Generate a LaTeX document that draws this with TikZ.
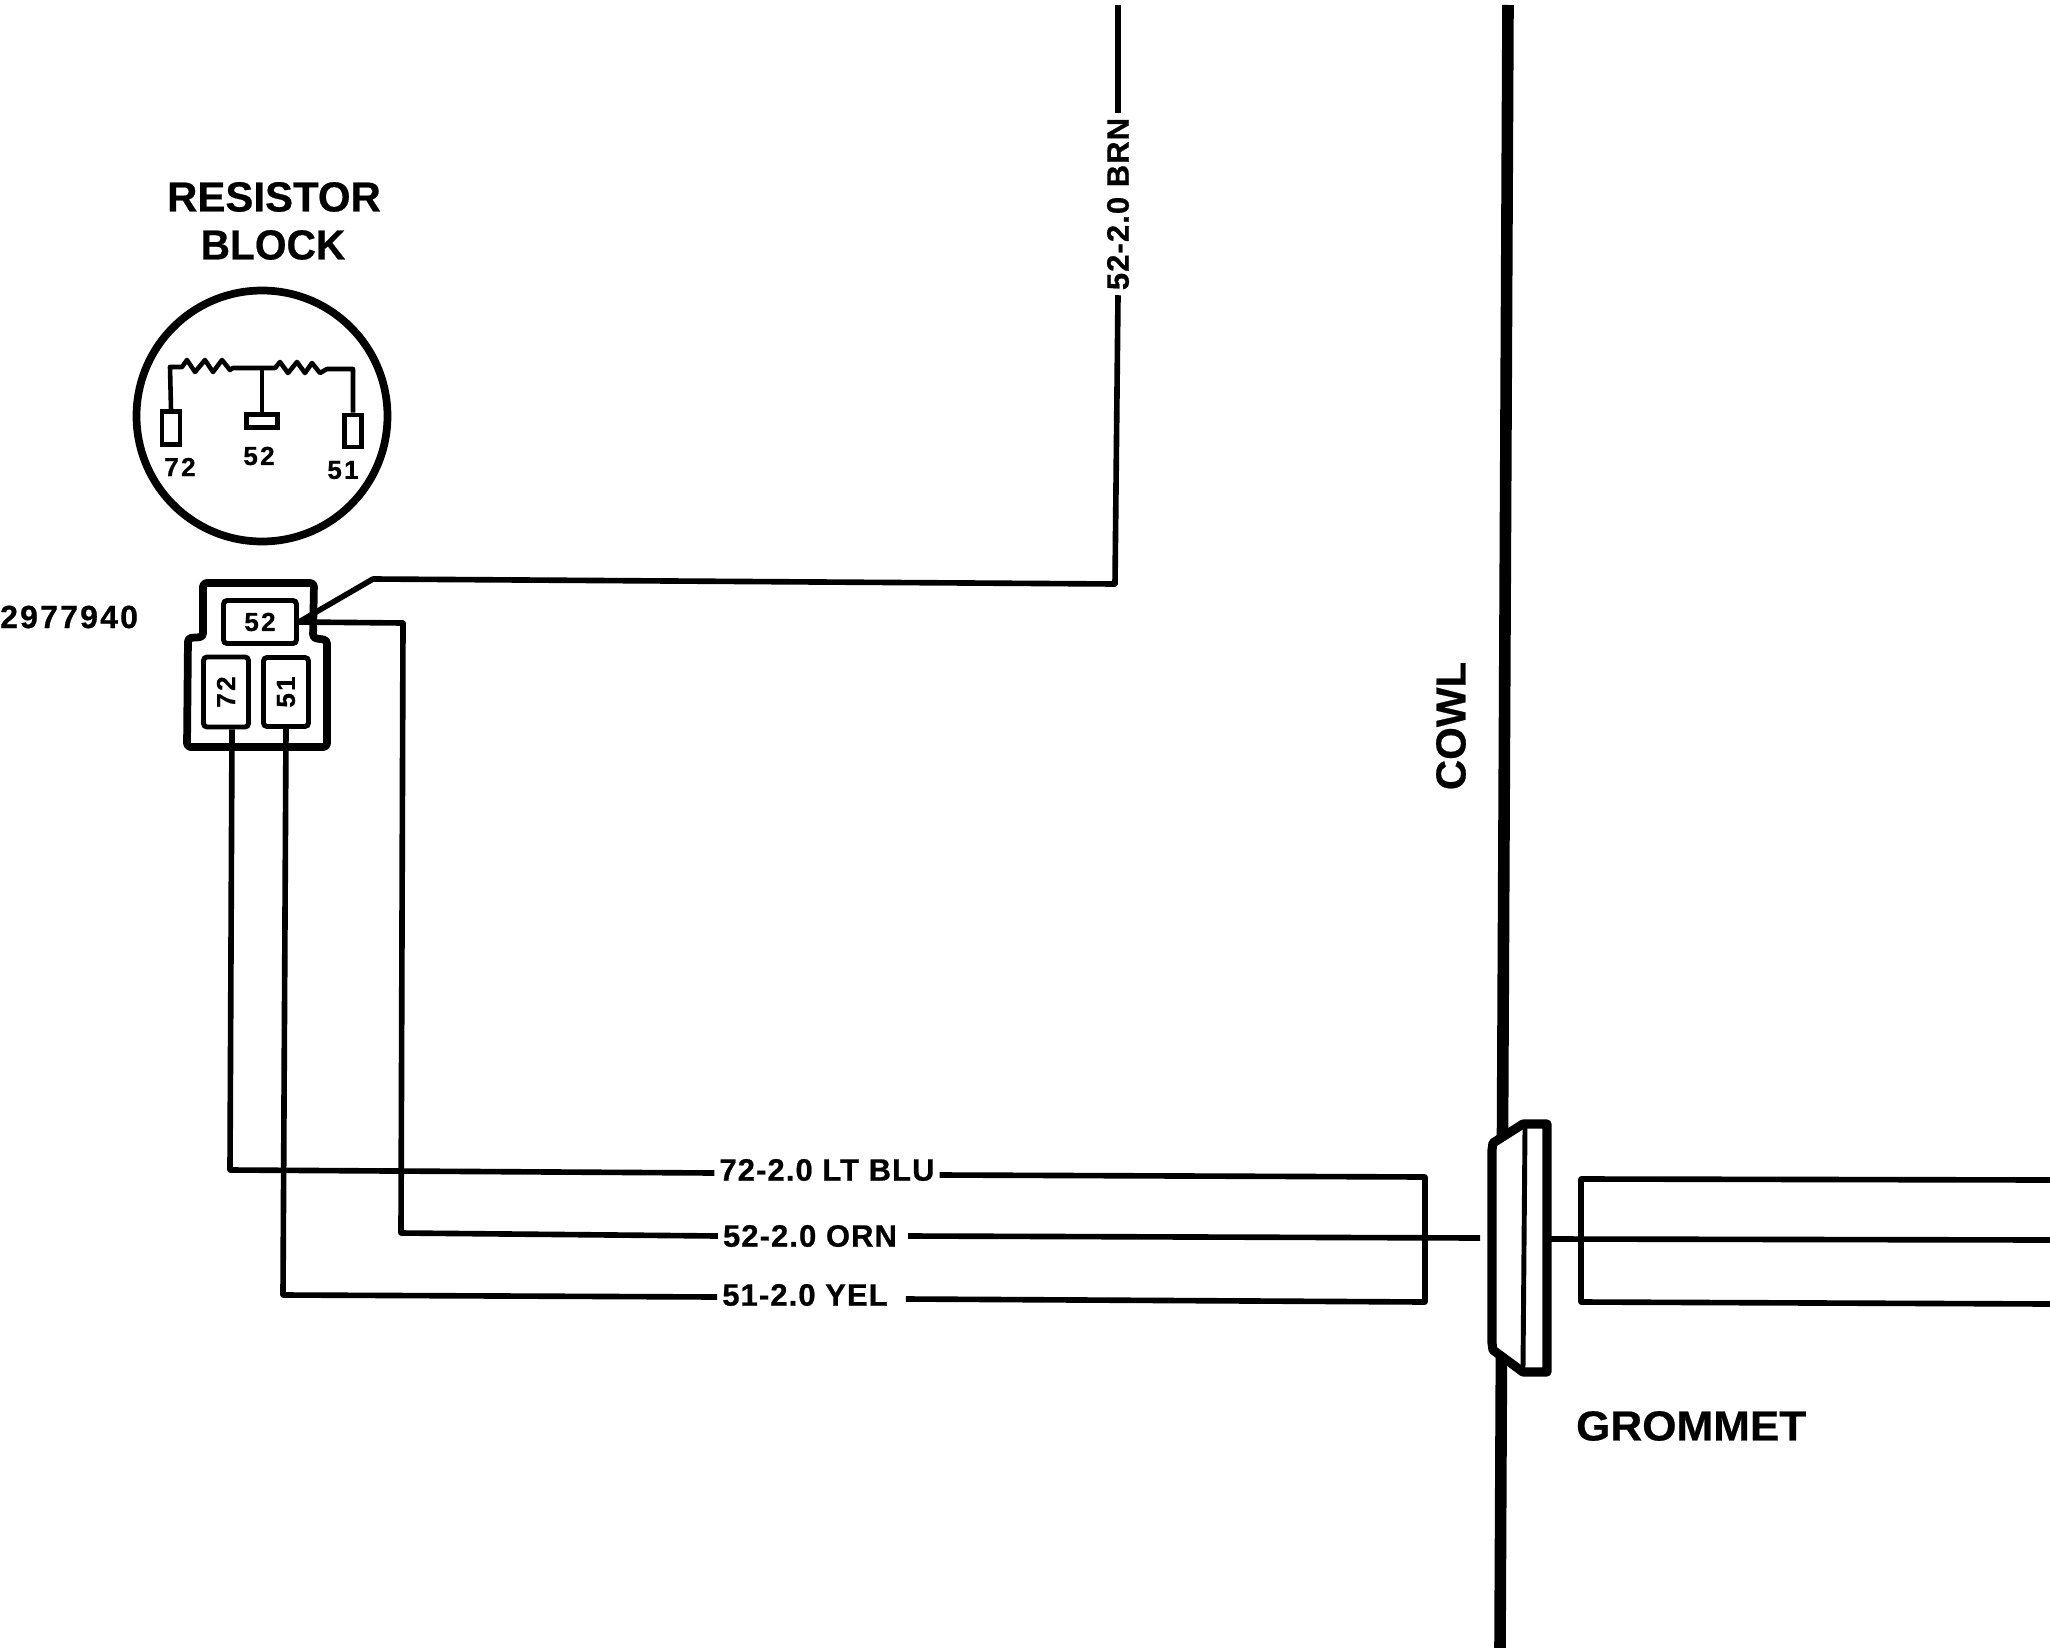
\documentclass[tikz,border=0pt]{standalone}
\usepackage{fontspec}
\setmainfont[BoldFeatures={FakeBold=0.5}]{Liberation Sans}
\newfontfamily\wirefont[LetterSpace=3.6,BoldFeatures={FakeBold=0.7}]{Liberation Sans}
\newfontfamily\partfont[LetterSpace=6.8,BoldFeatures={FakeBold=0.7}]{Liberation Sans}
\newfontfamily\pinfont[LetterSpace=9,BoldFeatures={FakeBold=0.7}]{Liberation Sans}
\usetikzlibrary{positioning}

\tikzset{
  wire/.style={line width=8pt, line join=round},
  thin wire/.style={line width=6.5pt, line join=round},
  title/.style={inner sep=0pt, font=\fontsize{59.7}{60}\selectfont\bfseries},
  wirelabel/.style={inner ysep=0pt, inner xsep=0.25cm, font=\wirefont\fontsize{44}{46}\selectfont\bfseries},
  pinlabel/.style={inner sep=0pt, font=\pinfont\fontsize{37}{38}\selectfont\bfseries},
  pinbox/.style={draw, line width=7pt, rounded corners=5pt, inner sep=0pt},
  terminal/.style={draw, line width=6.5pt, inner sep=0pt}
}

\begin{document}
\begin{tikzpicture}[x=0.05cm, y=-0.05cm]
  \useasboundingbox (0,0) rectangle (2050,1648);

  % Cowl, grommet goes on top of it
  \coordinate (cowlTop) at (1508,5);
  \coordinate (cowlEnd) at (1500,1648);
  \draw[line width=16.5pt] (cowlTop) -- (cowlEnd);
  \node[title, rotate=90] (cowl) at (1451,726) {COWL};

  % Grommet
  \draw[line width=13pt, fill=white, line join=round] (1492,1150) -- (1493,1143) -- (1523,1124)
    -- (1547,1124) -- (1547,1372) -- (1523,1372) -- (1493,1350) -- (1492,1343) -- cycle;
  \draw[line width=7pt] (1525,1128) -- (1523,1368);
  \node[title, anchor=west, xscale=1.05] (grommet) at (1576,1426) {GROMMET};

  % Resistor block
  \node[title] (resistor) at (274,197) {RESISTOR};
  \node[title, xscale=0.97] (block) at (273,245) {BLOCK};
  \node[draw, circle, line width=11pt, minimum size=12.55cm, inner sep=0pt] (blockcircle) at (262,416) {};
  \node[terminal, minimum width=0.9cm, minimum height=1.65cm] (term72) at (171,428) {};
  \node[terminal, minimum width=1.55cm, minimum height=0.65cm] (term52) at (262,421) {};
  \node[terminal, minimum width=0.85cm, minimum height=1.6cm] (term51) at (353,431) {};
  \node[pinlabel] (txt72) at (180,467) {72};
  \node[pinlabel] (txt52) at (259,456) {52};
  \node[pinlabel] (txt51) at (343,470) {51};
  \coordinate (tee) at (262,368);
  \draw[thin wire] (term72.north) -- (170,367) -- (182,367) -- (187,360) -- (195,372) -- (205,360)
    -- (213,372) -- (222,360) -- (230,370) -- (233,368) -- (tee) -- (275,368) -- (280,362)
    -- (288,373) -- (297,362) -- (305,373) -- (312,363) -- (320,373) -- (327,369) -- (353,369)
    -- (term51.north);
  \draw[thin wire] (tee) -- (term52.north);

  % Connector body
  \node[inner sep=0pt, anchor=west, font=\partfont\fontsize{45.6}{46}\selectfont\bfseries] (partno) at (0,617) {2977940};
  \draw[line width=11pt, rounded corners=5pt, line join=round] (203,583) -- (314,583) -- (313,638) -- (327,640)
    -- (327,747) -- (187,747) -- (188,638) -- (203,637) -- cycle;
  \node[pinbox, minimum width=3.65cm, minimum height=2.15cm] (box52) at (260,622) {};
  \node[pinbox, minimum width=2.25cm, minimum height=3.5cm] (box72) at (226,692) {};
  \node[pinbox, minimum width=2.25cm, minimum height=3.45cm] (box51) at (286,692) {};
  \node[pinlabel] (pin52) at (box52) {52};
  \node[pinlabel, rotate=90] (pin72) at (box72) {72};
  \node[pinlabel, rotate=90] (pin51) at (box51) {51};

  % Wires going to the grommet
  \node[wirelabel, rotate=90] (lblBrn) at (1118,204) {52-2.0 BRN};
  \node[wirelabel] (lblBlu) at (827,1170) {72-2.0 LT BLU};
  \node[wirelabel] (lblOrn) at (810,1236) {52-2.0 ORN};
  \node[wirelabel] (lblYel) at (805,1295) {51-2.0 YEL};
  \coordinate (brnTop) at (1118,5);
  \coordinate (brnCorner) at (1115,584);
  \coordinate (brnBend) at (373,579);
  \coordinate (ornCorner) at (403,623);
  \coordinate (ornLow) at (401,1233);
  \coordinate (bluCorner) at (230,1170);
  \coordinate (yelCorner) at (283,1295);
  \coordinate (bluEnd) at (1425,1177);
  \coordinate (yelEnd) at (1425,1302);
  \coordinate (ornEnd) at (1480,1238);
  \draw[wire] (brnTop) -- (lblBrn.east);
  \draw[wire] (lblBrn.west) -- (brnCorner) -- (brnBend) -- (box52.east);
  \draw[wire] (box52.east) -- (ornCorner) -- (ornLow) -- (lblOrn.west);
  \draw[wire] (lblOrn.east) ++(6,0) -- (ornEnd);
  \draw[wire] ([xshift=0.3cm]box72.south) -- (bluCorner) -- ([yshift=-0.15cm]lblBlu.west);
  \draw[wire] ([yshift=-0.25cm]lblBlu.east) -- (bluEnd) -- (yelEnd) -- ([xshift=0.65cm,yshift=-0.2cm]lblYel.east);
  \draw[wire] (box51.south) -- (yelCorner) -- ([yshift=-0.1cm]lblYel.west);

  % Wires on the far side of the cowl
  \coordinate (farTop) at (1581,1179);
  \coordinate (farLow) at (1581,1302);
  \coordinate (farOrn) at (1549,1239);
  \draw[wire] (2050,1180) -- (farTop) -- (farLow) -- (2050,1304);
  \draw[wire] (farOrn) -- (2050,1240);
\end{tikzpicture}
\end{document}
